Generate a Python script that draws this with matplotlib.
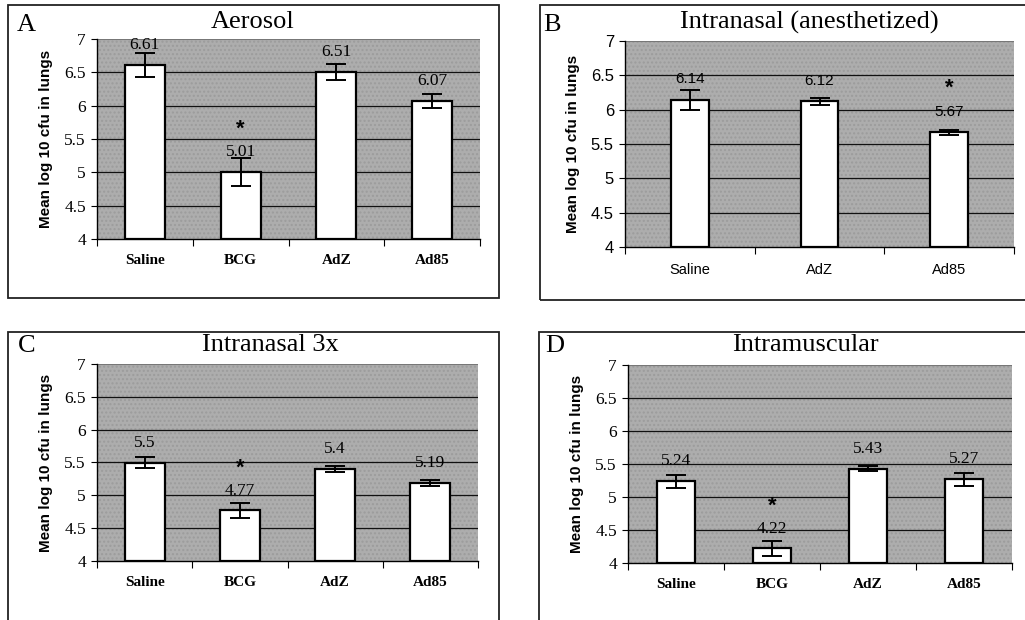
import matplotlib
matplotlib.use("Agg")
import matplotlib.pyplot as plt
from matplotlib.patches import Rectangle

# mean log10 cfu in lungs, with error bar half-widths
aero_groups = ["Saline", "BCG", "AdZ", "Ad85"]
aero_means = [6.61, 5.01, 6.51, 6.07]
aero_err = [0.18, 0.21, 0.12, 0.10]
aero_sig = [False, True, False, False]

inan_groups = ["Saline", "AdZ", "Ad85"]
inan_means = [6.14, 6.12, 5.67]
inan_err = [0.14, 0.05, 0.04]
inan_sig = [False, False, True]

in3x_groups = ["Saline", "BCG", "AdZ", "Ad85"]
in3x_means = [5.5, 4.77, 5.4, 5.19]
in3x_err = [0.09, 0.12, 0.05, 0.05]
in3x_sig = [False, True, False, False]

im_groups = ["Saline", "BCG", "AdZ", "Ad85"]
im_means = [5.24, 4.22, 5.43, 5.27]
im_err = [0.10, 0.12, 0.04, 0.10]
im_sig = [False, True, False, False]

yticks = [4, 4.5, 5, 5.5, 6, 6.5, 7]
ytick_labels = ["4", "4.5", "5", "5.5", "6", "6.5", "7"]

SERIF = "Liberation Serif"
SANS = "Liberation Sans"
W, H = 1025, 620


def px_axes(fig, x0, y0, x1, y1):
    return fig.add_axes([x0 / W, 1 - y1 / H, (x1 - x0) / W, (y1 - y0) / H])


def frame(fig, x0, y0, x1, y1):
    fig.patches.append(Rectangle((x0 / W, 1 - y1 / H), (x1 - x0) / W, (y1 - y0) / H,
                                 transform=fig.transFigure, fill=False,
                                 edgecolor="#222222", lw=1.3))


def panel(ax, groups, means, err, sig, font, sizes, catweight, barw):
    tick_fs, cat_fs, val_fs = sizes
    n = len(groups)
    x = [i + 0.5 for i in range(n)]
    ax.set_xlim(0, n)
    ax.set_ylim(4, 7)
    ax.set_facecolor("#adadad")
    ax.add_patch(Rectangle((0, 4), n, 3, facecolor="none", edgecolor="#9c9c9c",
                           hatch="....", lw=0, zorder=0))
    for y in yticks[1:-1]:
        ax.axhline(y, color="#111111", lw=0.9, zorder=1)
    ax.axhline(7, color="#777777", lw=0.8, zorder=1)
    ax.bar(x, [m - 4 for m in means], bottom=4, width=barw, color="white",
           edgecolor="black", lw=1.6, zorder=3)
    ax.errorbar(x, means, yerr=err, fmt="none", ecolor="black", elinewidth=1.4,
                capsize=7, capthick=1.4, zorder=4)
    for xi, m, s in zip(x, means, sig):
        ax.text(xi, m + 0.3, f"{m:g}", ha="center", va="center",
                fontsize=val_fs, family=font, zorder=5)
        if s:
            ax.text(xi, m + 0.64, "*", ha="center", va="center",
                    fontsize=16, family=SANS, weight="bold", zorder=5)
    for sp in ["top", "right"]:
        ax.spines[sp].set_visible(False)
    ax.spines["left"].set_linewidth(1.0)
    ax.spines["bottom"].set_linewidth(1.0)
    ax.set_yticks(yticks)
    ax.set_yticklabels(ytick_labels, family=font, fontsize=tick_fs)
    ax.set_xticks(range(n + 1))
    ax.set_xticklabels([])
    ax.tick_params(axis="y", length=4, width=0.8, pad=4)
    ax.tick_params(axis="x", length=5, width=0.8, direction="out")
    for xi, g in zip(x, groups):
        ax.text(xi, -0.11, g, transform=ax.get_xaxis_transform(), ha="center",
                va="center", fontsize=cat_fs, family=font, weight=catweight)
    ax.set_ylabel("Mean log 10 cfu in lungs", family=SANS, weight="bold",
                  fontsize=11, labelpad=8)


fig = plt.figure(figsize=(W / 100, H / 100), dpi=100)
fig.patch.set_facecolor("white")

frame(fig, 8, 5, 499, 298)
frame(fig, 540, 5, 1030, 300)
frame(fig, 8, 332, 499, 630)
frame(fig, 539, 332, 1030, 630)

serif_sizes = (12.5, 11, 12.5)
sans_sizes = (12, 10.5, 11)

ax = px_axes(fig, 97, 39, 480, 239)
panel(ax, aero_groups, aero_means, aero_err, aero_sig, SERIF, serif_sizes, "bold", 0.42)
ax = px_axes(fig, 625, 41, 1014, 247)
panel(ax, inan_groups, inan_means, inan_err, inan_sig, SANS, sans_sizes, "normal", 0.29)
ax = px_axes(fig, 97, 364, 478, 561)
panel(ax, in3x_groups, in3x_means, in3x_err, in3x_sig, SERIF, serif_sizes, "bold", 0.42)
ax = px_axes(fig, 628, 365, 1012, 563)
panel(ax, im_groups, im_means, im_err, im_sig, SERIF, serif_sizes, "bold", 0.40)

titles = [("A", 26, 25, "Aerosol", 253, 22),
          ("B", 552, 25, "Intranasal (anesthetized)", 809, 22),
          ("C", 27, 346, "Intranasal 3x", 270, 345),
          ("D", 555, 346, "Intramuscular", 805, 345)]
for letter, lx, ly, title, tx, ty in titles:
    fig.text(lx / W, 1 - ly / H, letter, ha="center", va="center",
             fontsize=19, family=SERIF)
    fig.text(tx / W, 1 - ty / H, title, ha="center", va="center",
             fontsize=19, family=SERIF)

fig.savefig("out.png", dpi=100)
